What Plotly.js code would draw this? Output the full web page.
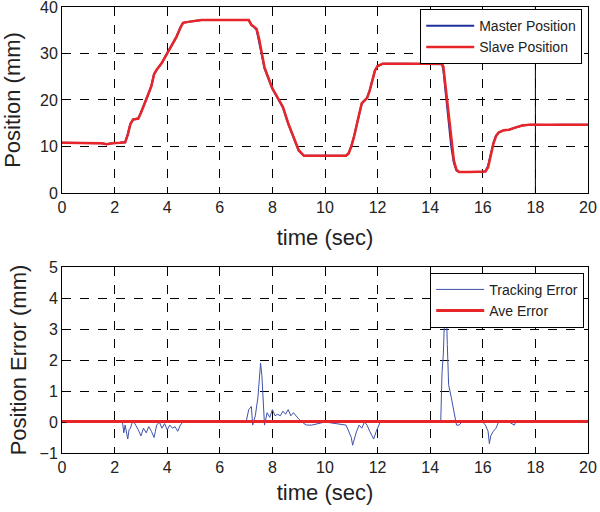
<!DOCTYPE html>
<html>
<head>
<meta charset="utf-8">
<script src="https://cdn.plot.ly/plotly-3.0.1.min.js"></script>
<style>html,body{margin:0;padding:0;background:#fff;}#chart{width:600px;height:512px;}</style>
</head>
<body>
<div id="chart"></div>
<script>
// ---- Position data (top panel) ----
const timePos = [0, 0.5, 1.0, 1.5, 1.7, 1.9, 2.2, 2.4, 2.5, 2.6, 2.7, 2.8, 2.9, 3.0, 3.1, 3.2, 3.3, 3.4, 3.5, 3.6, 3.7, 3.8, 3.9, 4.0, 4.1, 4.2, 4.35, 4.5, 4.6, 4.8, 5.0, 5.3, 5.6, 6.5, 7.1, 7.2, 7.3, 7.4, 7.5, 7.6, 7.7, 7.8, 8.0, 8.2, 8.4, 8.6, 8.8, 9.0, 9.2, 9.5, 10.0, 10.8, 10.9, 11.0, 11.1, 11.2, 11.3, 11.4, 11.5, 11.6, 11.7, 11.8, 11.9, 12.0, 12.2, 13.0, 14.0, 14.45, 14.5, 14.6, 14.7, 14.8, 14.9, 15.0, 15.1, 15.5, 16.0, 16.1, 16.2, 16.3, 16.4, 16.5, 16.6, 16.8, 17.0, 17.2, 17.5, 17.8, 18.5, 19.0, 20.0];
const slavePos = [10.8, 10.8, 10.8, 10.7, 10.5, 10.7, 10.8, 10.9, 12.5, 14.8, 15.8, 15.9, 16.0, 17.2, 18.5, 20.0, 21.5, 23.0, 25.5, 26.5, 27.2, 28.0, 29.0, 30.0, 31.0, 32.0, 33.5, 35.5, 36.6, 36.8, 37.0, 37.2, 37.2, 37.2, 37.2, 36.2, 35.8, 35.3, 33.0, 30.0, 27.0, 25.5, 22.5, 20.5, 18.5, 15.0, 12.0, 9.2, 8.0, 8.0, 8.0, 8.0, 8.5, 10.0, 12.0, 14.2, 17.0, 19.3, 19.9, 20.4, 22.0, 24.5, 26.3, 27.3, 27.8, 27.8, 27.8, 27.8, 27.2, 22.0, 16.0, 11.0, 7.0, 5.0, 4.5, 4.5, 4.5, 4.6, 5.5, 8.0, 10.5, 12.2, 13.0, 13.5, 13.6, 14.0, 14.5, 14.7, 14.7, 14.6, 14.7];
const masterPos = [10.8, 10.8, 10.8, 10.7, 10.5, 10.7, 10.8, 10.9, 12.6, 14.9, 15.8, 15.9, 16.0, 17.3, 18.6, 20.1, 21.6, 23.1, 25.6, 26.5, 27.2, 28.0, 29.1, 30.1, 31.0, 32.1, 33.6, 35.6, 36.6, 36.8, 37.0, 37.2, 37.2, 37.2, 37.2, 36.1, 35.7, 35.1, 32.6, 29.6, 26.8, 25.4, 22.4, 20.4, 18.4, 14.9, 11.9, 9.1, 8.0, 8.0, 8.0, 8.0, 8.6, 10.1, 12.1, 14.3, 17.1, 19.3, 19.9, 20.5, 22.1, 24.6, 26.4, 27.3, 27.8, 27.8, 27.8, 27.7, 26.5, 20.5, 14.5, 10.0, 6.5, 4.8, 4.5, 4.5, 4.5, 4.7, 5.8, 8.3, 10.7, 12.3, 13.0, 13.5, 13.6, 14.0, 14.5, 14.7, 14.6, 14.7, 14.7];

// ---- Tracking error data (bottom panel) ----
const timeErr = [0, 1.0, 2.0, 2.3, 2.35, 2.4, 2.5, 2.55, 2.6, 2.7, 2.8, 2.9, 3.0, 3.05, 3.1, 3.2, 3.3, 3.4, 3.5, 3.55, 3.6, 3.7, 3.8, 3.9, 4.0, 4.1, 4.2, 4.3, 4.4, 4.5, 4.6, 5.0, 6.0, 7.0, 7.1, 7.2, 7.25, 7.35, 7.45, 7.5, 7.55, 7.6, 7.65, 7.7, 7.8, 7.9, 8.0, 8.1, 8.2, 8.3, 8.4, 8.5, 8.6, 8.7, 8.8, 8.9, 9.0, 9.2, 9.3, 9.5, 10.0, 10.8, 10.9, 11.0, 11.05, 11.1, 11.2, 11.3, 11.4, 11.5, 11.6, 11.7, 11.85, 11.95, 12.05, 12.1, 13.0, 14.4, 14.45, 14.5, 14.55, 14.6, 14.65, 14.7, 14.8, 14.9, 15.0, 15.1, 15.2, 16.0, 16.1, 16.2, 16.25, 16.3, 16.4, 16.5, 16.6, 17.0, 17.2, 17.25, 17.3, 18.0, 19.0, 20.0];
const trackErr = [0.0, 0.0, 0.0, 0.0, -0.35, -0.1, -0.55, -0.25, -0.2, 0.05, -0.1, -0.25, -0.45, -0.3, -0.2, -0.35, -0.15, -0.3, -0.5, -0.3, -0.1, 0.0, -0.2, -0.05, -0.25, -0.1, -0.2, -0.15, -0.3, -0.1, 0.0, 0.0, 0.0, 0.0, 0.4, 0.5, -0.1, 0.2, 0.8, 1.4, 1.9, 1.5, 0.6, -0.1, 0.3, 0.15, 0.4, 0.2, 0.25, 0.2, 0.35, 0.25, 0.4, 0.2, 0.3, 0.2, 0.1, -0.05, -0.1, -0.1, 0.0, -0.1, -0.3, -0.5, -0.75, -0.6, -0.3, -0.1, -0.2, 0.0, -0.1, -0.3, -0.55, -0.3, -0.1, 0.0, 0.0, 0.0, 1.6, 2.2, 3.5, 4.2, 2.5, 1.2, 0.8, 0.3, -0.1, -0.1, 0.0, 0.0, -0.1, -0.3, -0.7, -0.45, -0.3, -0.2, 0.0, 0.0, -0.1, 0.0, 0.0, 0.0, 0.0, 0.0];
const aveErrTime = [0, 20];
const aveErr = [0.02, 0.02];

// ---- Axis ticks ----
const xTicks = [0, 2, 4, 6, 8, 10, 12, 14, 16, 18, 20];
const posTicks = [0, 10, 20, 30, 40];
const errTicks = [-1, 0, 1, 2, 3, 4, 5];
const solidGridX = 18;

const font = "Liberation Sans, Arial, Helvetica, sans-serif";
const titleFont = {family: font, size: 22, color: '#222'};
const axisCommon = {
  showline: true, mirror: true, linecolor: '#000', linewidth: 1,
  ticks: 'inside', ticklen: 4, tickcolor: '#000',
  showgrid: true, gridcolor: '#000', griddash: 'dash', gridwidth: 1,
  zeroline: false, tickfont: {family: font, size: 16, color: '#222'},
  ticklabeloverflow: 'allow'
};

const traces = [
  {x: timePos, y: masterPos, type: 'scatter', mode: 'lines', name: 'Master Position',
   line: {color: '#1f2f9a', width: 2}, xaxis: 'x', yaxis: 'y', legend: 'legend'},
  {x: timePos, y: slavePos, type: 'scatter', mode: 'lines', name: 'Slave Position',
   line: {color: '#e8262a', width: 2.5}, xaxis: 'x', yaxis: 'y', legend: 'legend'},
  {x: timeErr, y: trackErr, type: 'scatter', mode: 'lines', name: 'Tracking Error',
   line: {color: '#3f52aa', width: 1}, xaxis: 'x2', yaxis: 'y2', legend: 'legend2'},
  {x: aveErrTime, y: aveErr, type: 'scatter', mode: 'lines', name: 'Ave Error',
   line: {color: '#e8262a', width: 3}, xaxis: 'x2', yaxis: 'y2', legend: 'legend2'}
];

const layout = {
  width: 600, height: 512,
  margin: {l: 62, r: 12, t: 7, b: 59},
  paper_bgcolor: '#fff', plot_bgcolor: '#fff',
  showlegend: true,
  xaxis: Object.assign({}, axisCommon, {domain: [0, 1], anchor: 'y', range: [0, 20], tickvals: xTicks,
    title: {text: 'time (sec)', font: titleFont, standoff: 14}}),
  yaxis: Object.assign({}, axisCommon, {domain: [0.583, 1], anchor: 'x', range: [0, 40], tickvals: posTicks,
    title: {text: 'Position (mm)', font: titleFont, standoff: 14}}),
  xaxis2: Object.assign({}, axisCommon, {domain: [0, 1], anchor: 'y2', range: [0, 20], tickvals: xTicks,
    title: {text: 'time (sec)', font: titleFont, standoff: 9}}),
  yaxis2: Object.assign({}, axisCommon, {domain: [0, 0.417], anchor: 'x2', range: [-1, 5], tickvals: errTicks,
    title: {text: 'Position Error (mm)', font: titleFont, standoff: 6}}),
  legend: {x: 0.681, y: 0.995, xanchor: 'left', yanchor: 'top', bgcolor: '#fff', itemwidth: 48,
    bordercolor: '#000', borderwidth: 1, font: {family: font, size: 14, color: '#222'}, tracegroupgap: 0},
  legend2: {x: 0.70, y: 0.404, xanchor: 'left', yanchor: 'top', bgcolor: '#fff', itemwidth: 48,
    bordercolor: '#000', borderwidth: 1, font: {family: font, size: 14, color: '#222'}, tracegroupgap: 0},
  shapes: [
    {type: 'line', xref: 'x', yref: 'y domain', x0: solidGridX, x1: solidGridX, y0: 0, y1: 1,
     line: {color: '#000', width: 1}, layer: 'below'}
  ]
};

Plotly.newPlot('chart', traces, layout, {displayModeBar: false, staticPlot: true});
</script>
</body>
</html>
